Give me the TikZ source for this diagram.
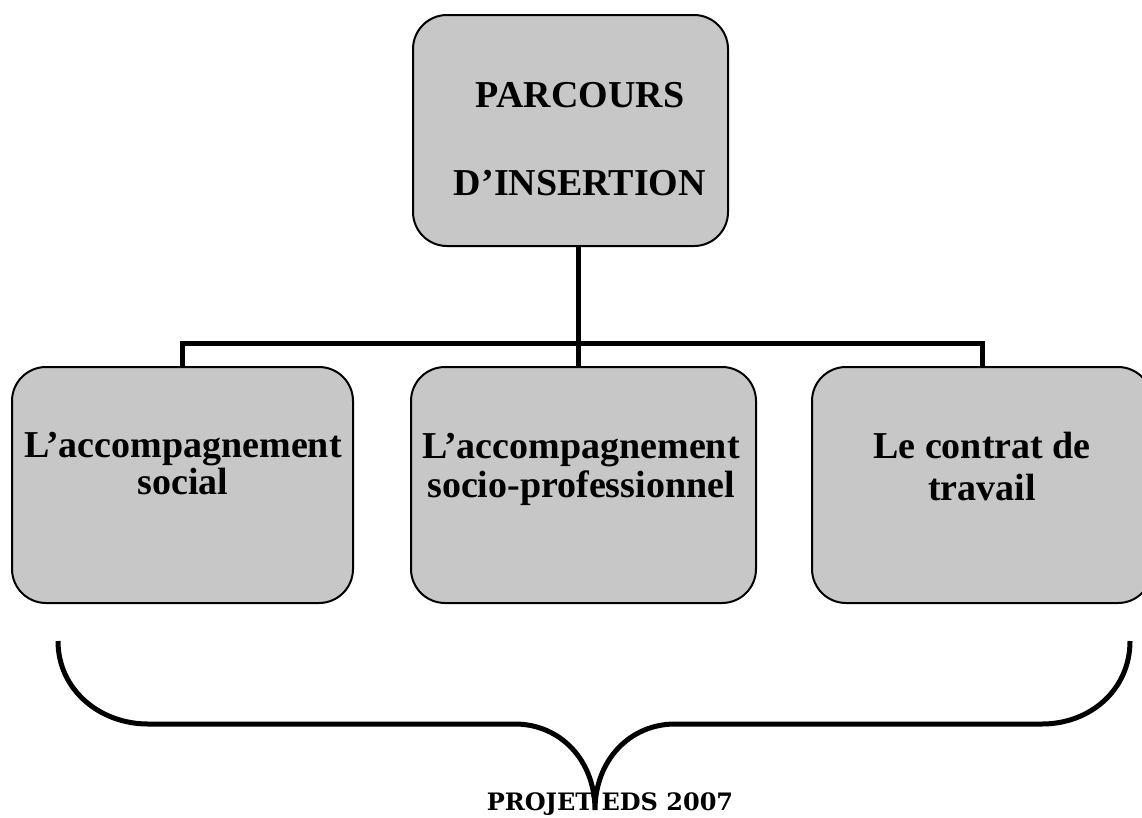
\documentclass[tikz,border=0pt]{standalone}
\usepackage{fontspec}
\setmainfont{Liberation Serif}
\newfontfamily\slabfont{DejaVu Serif}
\begin{document}
\begin{tikzpicture}[x=1pt,y=-1pt,
  boxstyle/.style={draw=black,line width=2pt,fill=black!22,rounded corners=34pt,inner sep=0pt},
  txt/.style={font=\fontsize{38}{40}\selectfont\bfseries,anchor=base,inner sep=0pt},
  conn/.style={line width=5pt},
  bracestyle/.style={line width=5pt}]
\useasboundingbox (0,0) rectangle (1142,817);
% boxes
\node[boxstyle,minimum width=315pt,minimum height=231pt] (top) at (570.5,130.5) {};
\node[boxstyle,minimum width=341pt,minimum height=236pt] (left) at (182.5,485) {};
\node[boxstyle,minimum width=345pt,minimum height=236pt] (mid) at (583.5,485) {};
\node[boxstyle,minimum width=340pt,minimum height=236pt] (right) at (982,485) {};
% texts
\node[txt] (t1) at (580,107) {PARCOURS};
\node[txt] (t2) at (580,195) {D’INSERTION};
\node[txt] (l1) at (183,457) {L’accompagnement};
\node[txt] (l2) at (183,494) {social};
\node[txt] (m1) at (581,458) {L’accompagnement};
\node[txt] (m2) at (581,497) {socio-professionnel};
\node[txt] (r1) at (982,458) {Le contrat de};
\node[txt] (r2) at (982,500) {travail};
% connectors
\coordinate (hub) at (578,343);
\draw[conn] (top.south -| hub) -- (hub);
\draw[conn] (left.north) |- (hub) -| (right.north);
\draw[conn] (hub) -- (mid.north -| hub);
% brace
\coordinate (bl) at (58,641);
\coordinate (br) at (1130,641);
\coordinate (tip) at (595,810);
\draw[bracestyle,line cap=butt]
  (bl) .. controls (58,690) and (100,724) .. (148,724)
  -- (515,724) .. controls (560,724) and (595,760) .. (tip)
  .. controls (595,760) and (630,724) .. (675,724)
  -- (1042,724) .. controls (1090,724) and (1130,690) .. (br);
\node[font=\slabfont\bfseries\fontsize{24}{26}\selectfont,anchor=base,inner sep=0pt] (proj) at (610,810) {PROJET EDS 2007};
\end{tikzpicture}
\end{document}
